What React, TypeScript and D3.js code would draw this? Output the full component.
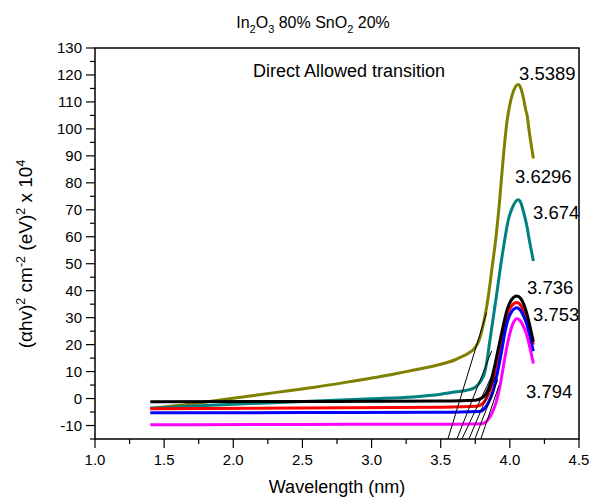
import React from "react";
import * as d3 from "d3";

const W = 594;
const H = 497;
const margin = { left: 95, right: 15, top: 48, bottom: 58 };

const xTicksMajor = [1.0, 1.5, 2.0, 2.5, 3.0, 3.5, 4.0, 4.5];
const yTicksMajor = [-10, 0, 10, 20, 30, 40, 50, 60, 70, 80, 90, 100, 110, 120, 130];

const oliveData: [number, number][] = [
  [1.4, -3.6], [1.6, -2.6], [1.8, -1.3], [2.0, 0.1], [2.2, 1.5], [2.4, 2.9], [2.6, 4.3],
  [2.8, 5.9], [3.0, 7.6], [3.2, 9.5], [3.4, 11.5], [3.5, 12.7], [3.6, 14.3], [3.65, 15.5],
  [3.7, 16.8], [3.75, 19], [3.78, 22], [3.81, 28], [3.85, 40], [3.87, 48], [3.9, 60],
  [3.92, 70], [3.95, 88], [3.98, 103], [4.0, 109], [4.03, 114.5], [4.06, 116.5], [4.08, 115],
  [4.1, 111], [4.115, 107], [4.125, 105], [4.14, 99], [4.155, 94], [4.17, 89],
];
const tealData: [number, number][] = [
  [1.4, -3.6], [1.8, -2.6], [2.2, -1.7], [2.6, -0.9], [3.0, -0.1], [3.3, 0.6], [3.5, 1.6],
  [3.6, 2.4], [3.7, 3.2], [3.75, 4.2], [3.79, 6.5], [3.82, 10], [3.86, 23], [3.9, 37],
  [3.93, 48], [3.96, 58], [3.99, 66.5], [4.02, 71], [4.06, 73.7], [4.08, 72.5], [4.1, 69],
  [4.125, 63.5], [4.14, 59], [4.155, 55], [4.17, 51],
];
const blackData: [number, number][] = [
  [1.4, -1.2], [2.5, -1.1], [3.5, -0.9], [3.75, -0.6], [3.8, 0.3], [3.83, 2], [3.86, 5.8],
  [3.89, 12], [3.92, 19.4], [3.95, 26.5], [3.98, 33], [4.01, 36.5], [4.05, 38], [4.08, 37],
  [4.1, 35], [4.12, 32], [4.14, 28], [4.17, 21],
];
const redData: [number, number][] = [
  [1.4, -3.8], [2.5, -3.5], [3.5, -3.2], [3.76, -2.9], [3.8, -2.0], [3.83, 0], [3.86, 3.5],
  [3.89, 9.5], [3.92, 17], [3.95, 24.5], [3.98, 31], [4.01, 34.2], [4.05, 35.6], [4.08, 34.5],
  [4.1, 32.5], [4.12, 30], [4.14, 26], [4.17, 20],
];
const blueData: [number, number][] = [
  [1.4, -5.3], [2.5, -5.2], [3.5, -5.1], [3.78, -4.8], [3.82, -3.5], [3.85, -1], [3.88, 3],
  [3.91, 9.5], [3.94, 17.5], [3.97, 26], [4.0, 31], [4.05, 33.7], [4.08, 32.5], [4.1, 30.5],
  [4.12, 28], [4.14, 24], [4.17, 17.6],
];
const magentaData: [number, number][] = [
  [1.4, -9.7], [2.5, -9.6], [3.5, -9.5], [3.8, -9.3], [3.84, -8], [3.87, -5.5], [3.9, -1.5],
  [3.93, 5], [3.96, 14], [3.99, 22], [4.02, 27.5], [4.05, 29.6], [4.08, 28.5], [4.1, 26.5],
  [4.12, 24], [4.14, 20], [4.17, 13],
];

const seriesColors = ["#808000", "#008080", "#000000", "#ff0000", "#0000ff", "#ff00ff"];
const seriesList = [oliveData, tealData, blackData, redData, blueData, magentaData];
const drawOrder = [0, 1, 3, 4, 5, 2];

// tangent lines: [x0, y0, x1, y1]
const tangents: [number, number, number, number][] = [
  [3.552, -15, 3.832, 31.9],
  [3.617, -15, 3.868, 17.6],
  [3.653, -15, 3.884, 10],
  [3.704, -15, 3.899, 8.6],
  [3.747, -15, 3.913, 7],
  [3.79, -15, 3.921, 4.8],
];

const gapLabels = ["3.5389", "3.6296", "3.674", "3.736", "3.753", "3.794"];
const gapLabelPos: [number, number][] = [
  [519, 80], [515, 183], [533, 219], [527, 294], [533, 321], [526, 398],
];

export default function App() {
  React.useEffect(() => {
    document.body.style.margin = "0";
  }, []);
  const x = d3.scaleLinear().domain([1.0, 4.5]).range([margin.left, W - margin.right]);
  const y = d3.scaleLinear().domain([-15, 130]).range([H - margin.bottom, margin.top]);
  const line = d3
    .line<[number, number]>()
    .x((d) => x(d[0]))
    .y((d) => y(d[1]))
    .curve(d3.curveMonotoneX);

  const xMinor = d3.range(1.0, 4.5001, 0.25);
  const yMinor = d3.range(-15, 130.001, 5);
  const font = "Arial, 'Liberation Sans', Helvetica, sans-serif";
  const x0 = x(1.0), x1 = x(4.5), y0 = y(-15), y1 = y(130);

  return (
    <svg width={W} height={H} style={{ position: "absolute", left: 0, top: 0, background: "#fff" }} fontFamily={font}>
      <rect x={0} y={0} width={W} height={H} fill="#fff" />
      {/* curves */}
      {drawOrder.map((i) => (
        <path key={i} d={line(seriesList[i]) || ""} fill="none" stroke={seriesColors[i]} strokeWidth={3} strokeLinejoin="round" />
      ))}
      {/* tangents */}
      {tangents.map((t, i) => (
        <line key={i} x1={x(t[0])} y1={y(t[1])} x2={x(t[2])} y2={y(t[3])} stroke="#000" strokeWidth={1} />
      ))}
      {/* frame */}
      <rect x={x0} y={y1} width={x1 - x0} height={y0 - y1} fill="none" stroke="#000" strokeWidth={1.5} />
      {/* x ticks */}
      {xMinor.map((v, i) => (
        <line key={"xm" + i} x1={x(v)} x2={x(v)} y1={y0} y2={y0 + (i % 2 === 0 ? 9 : 5)} stroke="#000" strokeWidth={1.2} />
      ))}
      {xTicksMajor.map((v) => (
        <text key={"xl" + v} x={x(v)} y={y0 + 26} textAnchor="middle" fontSize={15}>
          {v.toFixed(1)}
        </text>
      ))}
      {/* y ticks */}
      {yMinor.map((v, i) => (
        <line key={"ym" + i} y1={y(v)} y2={y(v)} x1={x0} x2={x0 - (i % 2 === 1 ? 9 : 5)} stroke="#000" strokeWidth={1.2} />
      ))}
      {yTicksMajor.map((v) => (
        <text key={"yl" + v} x={x0 - 13} y={y(v) + 5} textAnchor="end" fontSize={15}>
          {v}
        </text>
      ))}
      {/* axis titles */}
      <text x={(x0 + x1) / 2} y={493} textAnchor="middle" fontSize={18}>
        Wavelength (nm)
      </text>
      <text transform={`translate(32, 254) rotate(-90)`} textAnchor="middle" fontSize={19}>
        <tspan>(αhv)</tspan>
        <tspan dy={-7} fontSize={12.5}>2</tspan>
        <tspan dy={7}> cm</tspan>
        <tspan dy={-7} fontSize={12.5}>-2</tspan>
        <tspan dy={7}> (eV)</tspan>
        <tspan dy={-7} fontSize={12.5}>2</tspan>
        <tspan dy={7}> x 10</tspan>
        <tspan dy={-7} fontSize={12.5}>4</tspan>
      </text>
      {/* title */}
      <text x={313} y={28} textAnchor="middle" fontSize={16}>
        <tspan>In</tspan>
        <tspan dy={5} fontSize={11}>2</tspan>
        <tspan dy={-5}>O</tspan>
        <tspan dy={5} fontSize={11}>3</tspan>
        <tspan dy={-5}> 80% SnO</tspan>
        <tspan dy={5} fontSize={11}>2</tspan>
        <tspan dy={-5}> 20%</tspan>
      </text>
      <text x={253} y={77} fontSize={18}>
        Direct Allowed transition
      </text>
      {gapLabels.map((s, i) => (
        <text key={s} x={gapLabelPos[i][0]} y={gapLabelPos[i][1]} fontSize={18.5}>
          {s}
        </text>
      ))}
    </svg>
  );
}
